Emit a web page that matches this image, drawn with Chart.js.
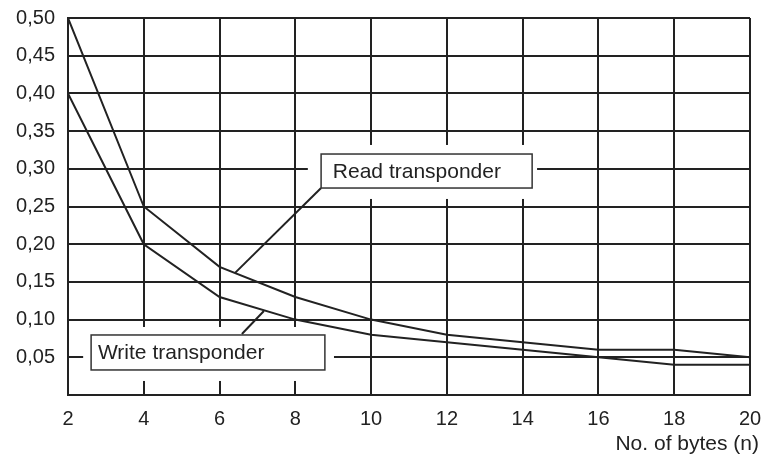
<!DOCTYPE html>
<html>
<head>
<meta charset="utf-8">
<script src="https://cdn.jsdelivr.net/npm/chart.js@4.4.0/dist/chart.umd.min.js"></script>
<style>
  html, body { margin: 0; padding: 0; background: #fff; }
</style>
</head>
<body>
<canvas id="grafico" width="761" height="458"></canvas>
<script>
// data
const bytes = [2, 4, 6, 8, 10, 12, 14, 16, 18, 20];
const readTimes = [0.50, 0.25, 0.17, 0.13, 0.10, 0.08, 0.07, 0.06, 0.06, 0.05];
const writeTimes = [0.40, 0.20, 0.13, 0.10, 0.08, 0.07, 0.06, 0.05, 0.04, 0.04];
const seriesNames = ["Read transponder", "Write transponder"];
const xTitle = "No. of bytes (n)";

const ink = "#222";
const fontFamily = '"Liberation Sans", Arial, Helvetica, sans-serif';

// callout boxes, in data units (x = bytes, y = value)
const callouts = [
  {
    text: seriesNames[0],
    box: [8.68, 14.25, 0.3196, 0.2745],
    clear: [8.33, 14.38, 0.3316, 0.26],
    textX: 8.99,
    leader: [8.68, 0.2745, 6.41, 0.162],
  },
  {
    text: seriesNames[1],
    box: [2.61, 8.78, 0.0796, 0.0332],
    clear: [2.4, 9.02, 0.0902, 0.0186],
    textX: 2.79,
    leader: [6.59, 0.0809, 7.17, 0.1114],
  },
];

function toPoints(values) {
  return bytes.map((b, i) => ({ x: b, y: values[i] }));
}

function formatTick(value) {
  if (Math.abs(value) < 1e-9) return "";
  return value.toFixed(2).replace(".", ",");
}

const calloutPlugin = {
  id: "callouts",
  beforeDatasetsDraw(chart) {
    const { ctx, scales } = chart;
    ctx.save();
    ctx.fillStyle = "#fff";
    callouts.forEach((c) => {
      const x1 = scales.x.getPixelForValue(c.clear[0]);
      const x2 = scales.x.getPixelForValue(c.clear[1]);
      const y1 = scales.y.getPixelForValue(c.clear[2]);
      const y2 = scales.y.getPixelForValue(c.clear[3]);
      ctx.fillRect(x1, y1, x2 - x1, y2 - y1);
    });
    ctx.restore();
  },
  afterDatasetsDraw(chart) {
    const { ctx, scales } = chart;
    ctx.save();
    callouts.forEach((c) => {
      // leader line
      ctx.strokeStyle = ink;
      ctx.lineWidth = 2;
      ctx.beginPath();
      ctx.moveTo(scales.x.getPixelForValue(c.leader[0]), scales.y.getPixelForValue(c.leader[1]));
      ctx.lineTo(scales.x.getPixelForValue(c.leader[2]), scales.y.getPixelForValue(c.leader[3]));
      ctx.stroke();

      const x1 = scales.x.getPixelForValue(c.box[0]);
      const x2 = scales.x.getPixelForValue(c.box[1]);
      const y1 = scales.y.getPixelForValue(c.box[2]);
      const y2 = scales.y.getPixelForValue(c.box[3]);
      ctx.fillStyle = "#fff";
      ctx.fillRect(x1, y1, x2 - x1, y2 - y1);
      ctx.strokeStyle = "#333";
      ctx.lineWidth = 1.5;
      ctx.strokeRect(x1, y1, x2 - x1, y2 - y1);

      ctx.fillStyle = ink;
      ctx.font = "21px " + fontFamily;
      ctx.textAlign = "left";
      ctx.textBaseline = "middle";
      ctx.fillText(c.text, scales.x.getPixelForValue(c.textX), (y1 + y2) / 2 + 1);
    });
    ctx.restore();
  },
  afterDraw(chart) {
    const { ctx, chartArea } = chart;
    ctx.save();
    ctx.fillStyle = ink;
    ctx.font = "21px " + fontFamily;
    ctx.textAlign = "right";
    ctx.textBaseline = "alphabetic";
    ctx.fillText(xTitle, chartArea.right + 9, 450);
    ctx.restore();
  },
};

new Chart(document.getElementById("grafico"), {
  type: "line",
  data: {
    datasets: [
      {
        label: seriesNames[0],
        data: toPoints(readTimes),
        borderColor: ink,
        borderWidth: 2,
        pointRadius: 0,
        tension: 0,
        fill: false,
      },
      {
        label: seriesNames[1],
        data: toPoints(writeTimes),
        borderColor: ink,
        borderWidth: 2,
        pointRadius: 0,
        tension: 0,
        fill: false,
      },
    ],
  },
  options: {
    responsive: false,
    animation: false,
    layout: { padding: { top: 18, right: 11, left: 0, bottom: 0 } },
    plugins: {
      legend: { display: false },
      tooltip: { enabled: false },
    },
    scales: {
      x: {
        type: "linear",
        min: 2,
        max: 20,
        afterFit: (scale) => {
          scale.height = 63;
          scale.paddingLeft = 0;
          scale.paddingRight = 0;
        },
        ticks: {
          stepSize: 2,
          color: ink,
          padding: 12,
          maxRotation: 0,
          font: { family: fontFamily, size: 20 },
        },
        grid: { color: ink, lineWidth: 2, drawTicks: false },
        border: { color: ink, width: 2 },
      },
      y: {
        min: 0,
        max: 0.5,
        afterFit: (scale) => {
          scale.width = 68;
          scale.paddingTop = 0;
          scale.paddingBottom = 0;
        },
        ticks: {
          stepSize: 0.05,
          color: ink,
          padding: 13,
          font: { family: fontFamily, size: 20 },
          callback: (value) => formatTick(value),
        },
        grid: { color: ink, lineWidth: 2, drawTicks: false },
        border: { color: ink, width: 2 },
      },
    },
  },
  plugins: [calloutPlugin],
});
</script>
</body>
</html>
